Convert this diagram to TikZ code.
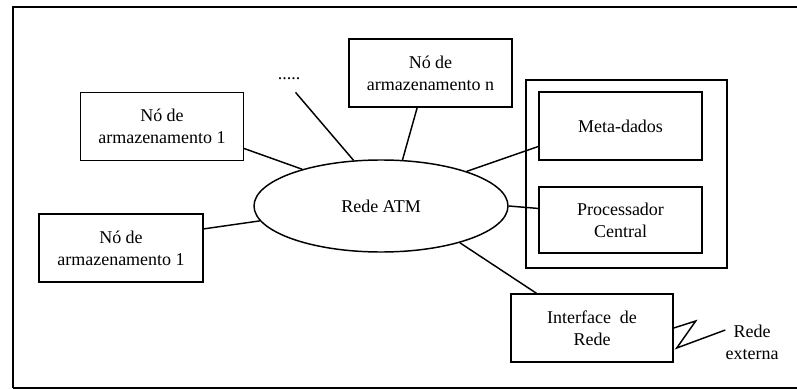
\documentclass[tikz,border=0pt]{standalone}
\usepackage{fontspec}
\setmainfont{Liberation Serif}
\usepackage{tikz}
\usetikzlibrary{shapes.geometric}
\tikzset{
  node_box/.style={draw=black,line width=1.1pt,minimum width=122pt,minimum height=51pt,
    font=\fontsize{13.5}{16.5}\selectfont,align=center},
  group_box/.style={draw=black,line width=1.1pt,minimum width=150.75pt,minimum height=141pt},
  net_ell/.style={draw=black,ellipse,line width=1.1pt,minimum width=190.5pt,minimum height=69pt,
    font=\fontsize{13.5}{16.5}\selectfont,inner sep=0pt},
  plain_txt/.style={font=\fontsize{13.5}{16.5}\selectfont,align=center,inner sep=0pt},
  link/.style={draw=black,line width=1.1pt},
}

\begin{document}
\begin{tikzpicture}[x=0.75pt,y=-0.75pt]
  \useasboundingbox (0,0) rectangle (797,389);

  % outer frame, open on the right
  \draw[line width=2pt] (797,7) -- (13,7) -- (13,388);
  \draw[line width=0.8pt] (13,388) -- (797,388);

  % central network
  \node[net_ell] (atm) at (381,206) {Rede ATM};

  % storage nodes
  \node[node_box] (sto1) at (162,126.5) {Nó de\\armazenamento 1};
  \node[node_box,minimum width=123pt] (sto1b) at (121,248) {Nó de\\armazenamento 1};
  \node[node_box] (ston) at (430.5,73) {Nó de\\armazenamento n};
  \node[plain_txt,inner ysep=9pt] (dots) at (289,79) {.....};

  % central server with its parts
  \node[group_box] (srv) at (626.5,174) {};
  \node[node_box,minimum width=122.25pt] (meta) at (620.5,126) {Meta-dados};
  \node[node_box,minimum width=122.25pt,minimum height=49.5pt] (cpu) at (620.5,220) {Processador\\Central};

  % gateway to the outside
  \node[node_box,minimum width=121.5pt] (iface) at (592,328) {Interface\ \ de\\Rede};
  \node[plain_txt] (ext) at (752,342.5) {Rede\\externa};

  \draw[link] (sto1.-15.5) -- (atm.155);
  \draw[link] (sto1b.13.5) -- (atm.-173.9);
  \draw[link] (dots.-64) -- (atm.121);
  \draw[link] (ston.-111) -- (atm.65);
  \draw[link] (atm.22) -- (meta.-166.2);
  \draw[link] (atm.east) -- (cpu.172.3);
  \draw[link] (atm.-25.7) -- (iface.148.3);
  \draw[link] (iface.east) -- ++(22,-7) -- ++(-19,27) -- (ext.155);
\end{tikzpicture}
\end{document}
